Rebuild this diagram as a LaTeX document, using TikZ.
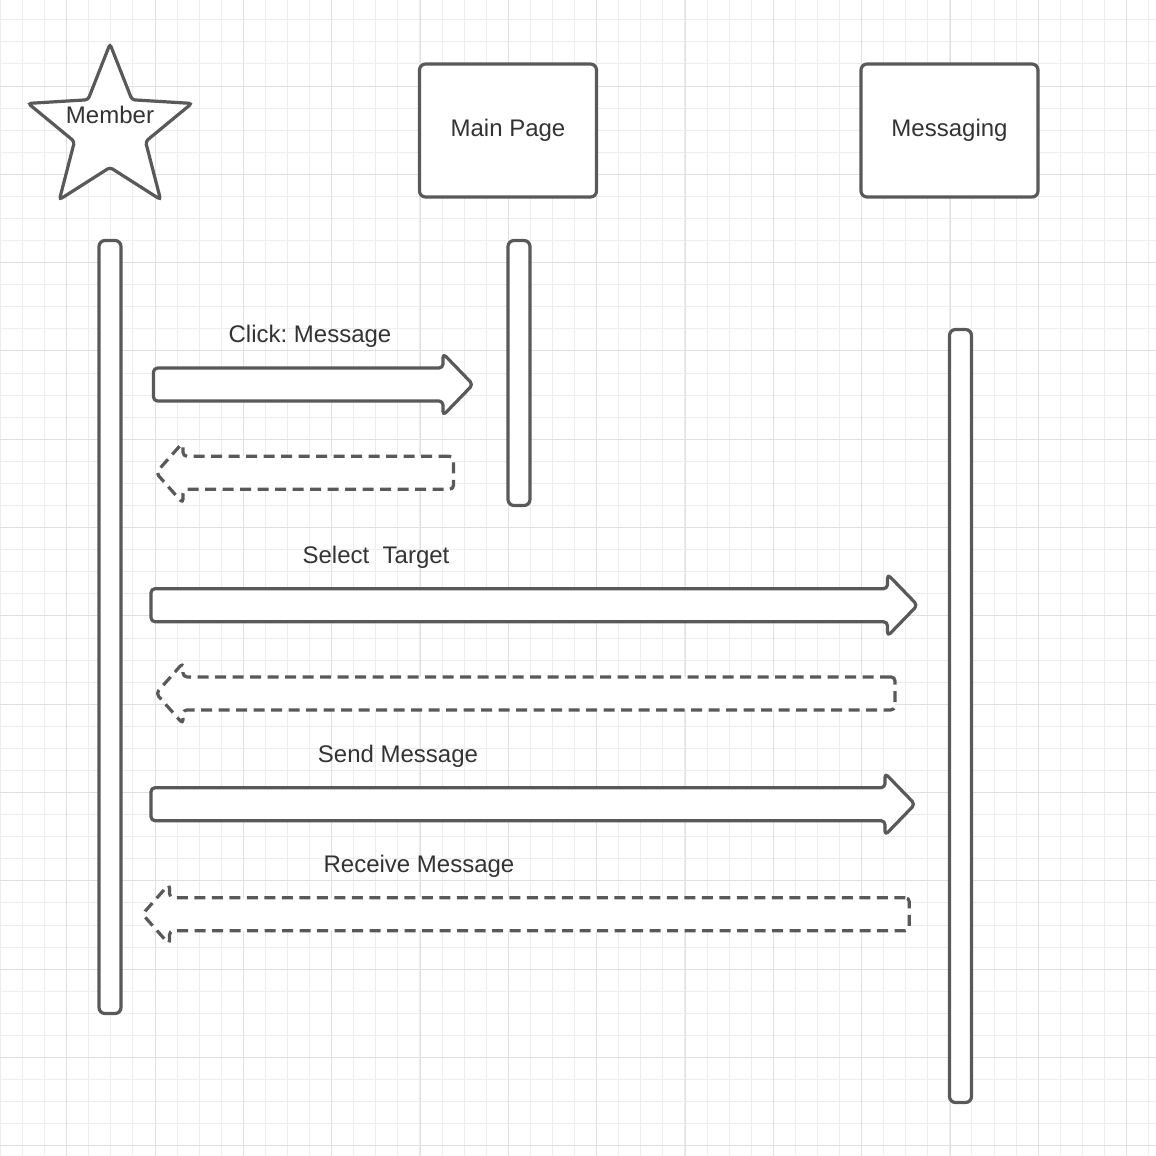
\documentclass[tikz,border=0pt]{standalone}
\usepackage{fontspec}
\setmainfont{Liberation Sans}
\frenchspacing
\usetikzlibrary{shapes.geometric}
\definecolor{strokec}{HTML}{595959}
\definecolor{textc}{HTML}{333333}
\definecolor{gridminor}{HTML}{EDEDED}
\definecolor{gridmajor}{HTML}{E0E0E0}
\tikzset{
  shapeline/.style={draw=strokec, line width=3.2pt, fill=white},
  headbox/.style={shapeline, rounded corners=6pt, minimum width=177pt, minimum height=133pt, inner sep=0pt},
  lifeline/.style={shapeline, rounded corners=6pt, minimum width=22pt, inner sep=0pt},
  blockarrow/.style={shapeline, rounded corners=4pt, line join=round},
  returnarrow/.style={blockarrow, dash pattern=on 11pt off 6.5pt},
  lbl/.style={text=textc, font=\fontsize{24}{28}\selectfont, inner sep=0pt},
  minorgrid/.style={draw=gridminor, line width=1pt},
  majorgrid/.style={draw=gridmajor, line width=1pt}
}
\newcommand\myRightBlock[4][]{%
  \path[blockarrow,#1] ({#2},{#4-16.5}) -- ({#3-30},{#4-16.5}) -- ({#3-30},{#4-31}) -- ({#3},{#4}) -- ({#3-30},{#4+31}) -- ({#3-30},{#4+16.5}) -- ({#2},{#4+16.5}) -- cycle;}
\newcommand\myLeftBlock[4][]{%
  \path[returnarrow,#1] ({#3},{#4-16.5}) -- ({#2+27},{#4-16.5}) -- ({#2+27},{#4-30.5}) -- ({#2},{#4}) -- ({#2+27},{#4+30.5}) -- ({#2+27},{#4+16.5}) -- ({#3},{#4+16.5}) -- cycle;}
\begin{document}
\begin{tikzpicture}[x=1pt,y=-1pt]
\useasboundingbox (0,0) rectangle (1156,1156);
\fill[white] (0,0) rectangle (1156,1156);
% grid
\foreach \k in {0,...,52} {
  \pgfmathsetmacro\xx{0.46+22.08*\k}
  \pgfmathsetmacro\yy{-2.3+22.08*\k}
  \draw[minorgrid] (\xx,0) -- (\xx,1156);
  \draw[minorgrid] (0,\yy) -- (1156,\yy);
}
\foreach \k in {0,...,13} {
  \pgfmathsetmacro\xx{66.7+88.33*\k}
  \pgfmathsetmacro\yy{86+88.33*(\k-1)}
  \draw[majorgrid] (\xx,0) -- (\xx,1156);
  \draw[majorgrid] (0,\yy) -- (1156,\yy);
}
% heads
\node[star, star points=5, star point ratio=2.3, minimum size=172pt, inner sep=0pt, shapeline, rounded corners=3pt] (member) at (110,130) {};
\node[lbl] (membertxt) at (110,114.5) {Member};
\node[headbox] (mainpage) at (508,130.5) {};
\node[lbl] (mainpagetxt) at (mainpage.center) {Main Page};
\node[headbox] (messaging) at (949.5,130.5) {};
\node[lbl] (messagingtxt) at (messaging.center) {Messaging};
% lifelines
\node[lifeline, minimum height=773pt] (llmember) at (110,627) {};
\node[lifeline, minimum height=265pt] (llmain) at (519,373) {};
\node[lifeline, minimum height=773pt] (llmsg) at (960.5,716) {};
% messages
\myRightBlock{153.5}{473}{384.5}
\node[lbl] (m1) at (310,336.5) {Click: Message};
\myLeftBlock{156}{453.5}{472.8}
\myRightBlock{151}{917.5}{605.2}
\node[lbl] (m2) at (376,557.5) {Select\ \ Target};
\myLeftBlock{156}{895}{693.4}
\myRightBlock{151}{915}{804.2}
\node[lbl] (m3) at (398,756.5) {Send Message};
\myLeftBlock{142.5}{909.3}{914.2}
\node[lbl] (m4) at (419,866.5) {Receive Message};
\end{tikzpicture}
\end{document}
